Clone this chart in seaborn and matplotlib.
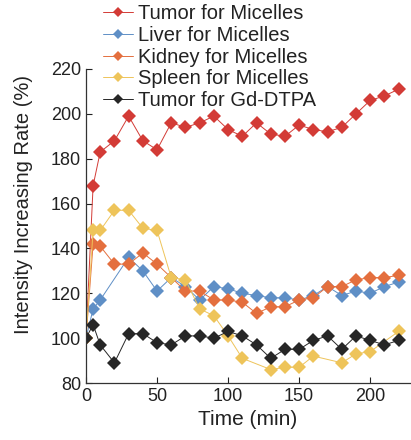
import numpy as np
import pandas as pd
import matplotlib
matplotlib.use("Agg")
import matplotlib.pyplot as plt
import seaborn as sns

# values (time in min, rate in %)
t_full = [0, 5, 10, 20, 30, 40, 50, 60, 70, 80, 90, 100, 110, 120, 130,
          140, 150, 160, 170, 180, 190, 200, 210, 220]

tumor_mic = [100, 168, 183, 188, 199, 188, 184, 196, 194, 196, 199, 193, 190,
             196, 191, 190, 195, 193, 192, 194, 200, 206, 208, 211]

liver_t = [0, 5, 10, 30, 40, 50, 60, 70, 80, 90, 100, 110, 120, 130, 140,
           150, 160, 170, 180, 190, 200, 210, 220]
liver_mic = [100, 113, 117, 136, 130, 121, 127, 123, 117, 123, 122, 120, 119,
             118, 118, 117, 119, 123, 119, 121, 120, 123, 125]

kidney_mic = [100, 142, 141, 133, 133, 138, 133, 127, 121, 121, 117, 117, 116,
              111, 114, 114, 117, 118, 123, 123, 126, 127, 127, 128]

spleen_t = [0, 5, 10, 20, 30, 40, 50, 60, 70, 80, 90, 100, 110, 130, 140,
            150, 160, 180, 190, 200, 220]
spleen_mic = [100, 148, 148, 157, 157, 149, 148, 127, 126, 113, 110, 101, 91,
              86, 87, 87, 92, 89, 93, 94, 103]

tumor_gd = [100, 106, 97, 89, 102, 102, 98, 97, 101, 101, 100, 103, 101, 97,
            91, 95, 95, 99, 101, 95, 101, 99, 97, 99]

series_names = ["Tumor for Micelles", "Liver for Micelles", "Kidney for Micelles",
                "Spleen for Micelles", "Tumor for Gd-DTPA"]
colors = ["#d33b36", "#5f8fc6", "#e46f3e", "#eec45a", "#262626"]

frames = [
    pd.DataFrame({"time": t_full, "rate": tumor_mic, "series": series_names[0]}),
    pd.DataFrame({"time": liver_t, "rate": liver_mic, "series": series_names[1]}),
    pd.DataFrame({"time": t_full, "rate": kidney_mic, "series": series_names[2]}),
    pd.DataFrame({"time": spleen_t, "rate": spleen_mic, "series": series_names[3]}),
    pd.DataFrame({"time": t_full, "rate": tumor_gd, "series": series_names[4]}),
]
df = pd.concat(frames, ignore_index=True)

sns.set_style("ticks")
plt.rcParams["font.family"] = ["Liberation Sans", "DejaVu Sans"]

fig = plt.figure(figsize=(4.11, 4.4), dpi=100)
ax = fig.add_axes([86 / 411, 1 - 383 / 440, 324 / 411, 314 / 440])

sns.lineplot(data=df, x="time", y="rate", hue="series", style="series",
             hue_order=series_names, style_order=series_names,
             palette=dict(zip(series_names, colors)),
             markers={n: "D" for n in series_names}, dashes=False,
             markersize=7, markeredgewidth=0, linewidth=0.7,
             estimator=None, sort=False, ax=ax)

ax.set_xlim(0, 228)
ax.set_ylim(80, 220)
ax.set_xticks([0, 50, 100, 150, 200])
ax.set_yticks(np.arange(80, 221, 20))
ax.tick_params(direction="in", length=4, width=0.8, labelsize=13, colors="#222222")
for side in ["top", "right"]:
    ax.spines[side].set_visible(False)
for side in ["left", "bottom"]:
    ax.spines[side].set_linewidth(0.9)
    ax.spines[side].set_color("#333333")

ax.set_xlabel("Time (min)", fontsize=15, color="#222222")
ax.set_ylabel("Intensity Increasing Rate (%)", fontsize=14.5, color="#222222")
ax.yaxis.set_label_coords(-0.165, 0.567)

leg = ax.legend(loc="upper left", bbox_to_anchor=(103 / 411, 1 - 4 / 440),
                bbox_transform=fig.transFigure, frameon=False, fontsize=14.5,
                handlelength=1.5, handletextpad=0.25, labelspacing=0.14,
                borderpad=0, borderaxespad=0)
for h in leg.legend_handles:
    h.set_markersize(5)
for txt in leg.get_texts():
    txt.set_color("#222222")

fig.savefig("out.png", dpi=100)
